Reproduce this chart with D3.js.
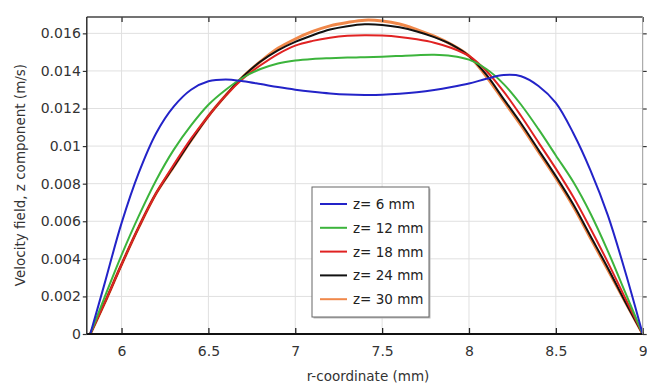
<!DOCTYPE html>
<html>
<head>
<meta charset="utf-8">
<script src="https://cdn.jsdelivr.net/npm/d3@7"></script>
<style>
  body { margin: 0; background: #fff; }
  svg { display: block; font-family: "DejaVu Sans", Verdana, sans-serif; }
</style>
</head>
<body>
<svg id="chart" width="647" height="385"></svg>
<script>
// r-coordinate samples (mm), shared by all series
var rValues = [5.82, 5.9, 6.0, 6.1, 6.2, 6.3, 6.4, 6.5, 6.6, 6.7, 6.8, 6.9, 7.0, 7.1, 7.2, 7.3, 7.4,
  7.5, 7.6, 7.7, 7.8, 7.9, 8.0, 8.1, 8.2, 8.3, 8.4, 8.5, 8.6, 8.7, 8.8, 8.9, 9.0];

// velocity z component (m/s)
var z6 = [0, 0.0026, 0.0059, 0.0086, 0.0107, 0.0121, 0.0130, 0.01345, 0.01355, 0.01345, 0.0133, 0.01314, 0.01300,
  0.01289, 0.0128, 0.01274, 0.01272, 0.01273, 0.01278, 0.01286, 0.01298, 0.01314, 0.01333, 0.01358, 0.01378,
  0.01372, 0.0132, 0.0123, 0.0107, 0.0087, 0.0063, 0.0033, 0];
var z12 = [0, 0.0019, 0.0042, 0.0063, 0.0082, 0.0098, 0.0111, 0.0122, 0.0130, 0.01365, 0.0141, 0.0144, 0.01456,
  0.01464, 0.01468, 0.01471, 0.01473, 0.01476, 0.0148, 0.01484, 0.01486, 0.0148, 0.0146, 0.0141, 0.0133,
  0.0122, 0.0109, 0.0095, 0.0081, 0.0064, 0.0044, 0.0022, 0];
var z18 = [0, 0.0016, 0.0037, 0.0057, 0.0075, 0.0090, 0.0104, 0.0116, 0.0127, 0.0136, 0.0143, 0.0149, 0.01535,
  0.0156, 0.01577, 0.01587, 0.0159, 0.01588, 0.01581, 0.01568, 0.0155, 0.01522, 0.0148, 0.0140, 0.0129,
  0.0116, 0.0102, 0.0088, 0.0073, 0.0056, 0.0038, 0.0019, 0];
var z24 = [0, 0.0016, 0.0037, 0.0057, 0.0075, 0.0089, 0.0103, 0.0116, 0.0127, 0.0137, 0.0145, 0.0151, 0.01555,
  0.0159, 0.0162, 0.01638, 0.01648, 0.01645, 0.01632, 0.0161, 0.0158, 0.0154, 0.0148, 0.0138, 0.0125,
  0.0112, 0.0098, 0.0084, 0.0069, 0.0052, 0.0035, 0.0017, 0];
var z30 = [0, 0.0016, 0.0037, 0.0057, 0.0075, 0.0089, 0.0103, 0.0116, 0.0127, 0.0137, 0.0145, 0.0152, 0.0157,
  0.0161, 0.0164, 0.01658, 0.0167, 0.01666, 0.0165, 0.0162, 0.01585, 0.0154, 0.0148, 0.0137, 0.0124,
  0.0111, 0.0097, 0.0083, 0.0068, 0.0051, 0.0034, 0.0017, 0];

var seriesNames = ["z= 6 mm", "z= 12 mm", "z= 18 mm", "z= 24 mm", "z= 30 mm"];
var seriesColors = ["#2323c8", "#3cb43c", "#e02222", "#111111", "#f0884a"];
var seriesValues = [z6, z12, z18, z24, z30];

var xTicks = [6, 6.5, 7, 7.5, 8, 8.5, 9];
var yTicks = [0, 0.002, 0.004, 0.006, 0.008, 0.01, 0.012, 0.014, 0.016];

var xLabel = "r-coordinate (mm)";
var yLabel = "Velocity field, z component (m/s)";

var svg = d3.select("#chart");

// plot box (window.top is taken, so use other names)
var plotL = 86.8, plotR = 642.7, plotT = 17, plotB = 334;

var x = d3.scaleLinear().domain([5.8, 9]).range([plotL, plotR]);
var y = d3.scaleLinear().domain([0, 0.01687]).range([plotB, plotT]);

function drawGrid() {
  var g = svg.append("g");
  g.selectAll("line.gx").data(xTicks.slice(0, -1)).enter().append("line")
    .attr("x1", d => x(d)).attr("x2", d => x(d))
    .attr("y1", plotT).attr("y2", plotB)
    .attr("stroke", "#e0e0e0").attr("stroke-width", 1);
  g.selectAll("line.gy").data(yTicks.slice(1)).enter().append("line")
    .attr("x1", plotL).attr("x2", plotR)
    .attr("y1", d => y(d)).attr("y2", d => y(d))
    .attr("stroke", "#e0e0e0").attr("stroke-width", 1);
}

function drawAxes() {
  // bottom axis, ticks pointing into the plot
  var xb = svg.append("g").attr("transform", "translate(0," + plotB + ")")
    .call(d3.axisBottom(x).tickValues(xTicks).tickSize(-6).tickPadding(12).tickFormat(d3.format("")));
  xb.select(".domain").remove();
  xb.selectAll("line").attr("stroke", "#222").attr("stroke-width", 1.3);
  xb.selectAll("text").attr("font-size", 14).attr("fill", "#333").attr("font-family", "DejaVu Sans");

  // top ticks
  var xt = svg.append("g").attr("transform", "translate(0," + plotT + ")")
    .call(d3.axisTop(x).tickValues(xTicks).tickSize(-5).tickFormat(""));
  xt.select(".domain").remove();
  xt.selectAll("line").attr("stroke", "#333").attr("stroke-width", 1.3);

  // left axis
  var yl = svg.append("g").attr("transform", "translate(" + plotL + ",0)")
    .call(d3.axisLeft(y).tickValues(yTicks).tickSize(4).tickPadding(2).tickFormat(d3.format("")));
  yl.select(".domain").remove();
  yl.selectAll("line").attr("stroke", "#333").attr("stroke-width", 1.2);
  yl.selectAll("text").attr("font-size", 14).attr("fill", "#333").attr("font-family", "DejaVu Sans");

  // right ticks
  var yr = svg.append("g").attr("transform", "translate(" + plotR + ",0)")
    .call(d3.axisRight(y).tickValues(yTicks).tickSize(4).tickFormat(""));
  yr.select(".domain").remove();
  yr.selectAll("line").attr("stroke", "#333").attr("stroke-width", 1.2);

  // frame
  svg.append("line").attr("x1", plotL).attr("x2", plotR).attr("y1", plotT).attr("y2", plotT)
    .attr("stroke", "#444").attr("stroke-width", 1.6);
  svg.append("line").attr("x1", plotL).attr("x2", plotR).attr("y1", plotB).attr("y2", plotB)
    .attr("stroke", "#111").attr("stroke-width", 1.8);
  svg.append("line").attr("x1", plotL).attr("x2", plotL).attr("y1", plotT).attr("y2", plotB)
    .attr("stroke", "#222").attr("stroke-width", 1.4);
  svg.append("line").attr("x1", plotR).attr("x2", plotR).attr("y1", plotT).attr("y2", plotB)
    .attr("stroke", "#999").attr("stroke-width", 1);

  svg.append("text").attr("x", 368).attr("y", 381)
    .attr("text-anchor", "middle").attr("font-size", 13.5).attr("fill", "#333")
    .text(xLabel);

  svg.append("text").attr("transform", "translate(25,175) rotate(-90)")
    .attr("text-anchor", "middle").attr("font-size", 13.5).attr("fill", "#333")
    .text(yLabel);
}

function drawLines() {
  var line = d3.line()
    .x((d, i) => x(rValues[i]))
    .y(d => y(d))
    .curve(d3.curveCatmullRom.alpha(0.5));
  // orange first so the black and red sit on top of it
  var order = [4, 3, 2, 1, 0];
  order.forEach(function(k) {
    svg.append("path")
      .datum(seriesValues[k])
      .attr("fill", "none")
      .attr("stroke", seriesColors[k])
      .attr("stroke-width", k == 4 ? 3 : 2)
      .attr("stroke-linejoin", "round")
      .attr("d", line);
  });
}

function drawLegend() {
  var lx = 312, ly = 187, lw = 117, lh = 130;
  svg.append("rect").attr("x", lx + 1.5).attr("y", ly + 1.5).attr("width", lw).attr("height", lh)
    .attr("fill", "#bbb");
  svg.append("rect").attr("x", lx).attr("y", ly).attr("width", lw).attr("height", lh)
    .attr("fill", "#fff").attr("stroke", "#666").attr("stroke-width", 1);
  var items = svg.selectAll("g.leg").data(seriesNames).enter().append("g")
    .attr("transform", (d, i) => "translate(" + lx + "," + (ly + 17 + i * 23.8) + ")");
  items.append("line").attr("x1", 8).attr("x2", 35).attr("y1", 0).attr("y2", 0)
    .attr("stroke", (d, i) => seriesColors[i]).attr("stroke-width", 2);
  items.append("text").attr("x", 41).attr("y", 5)
    .attr("font-size", 13.5).attr("fill", "#222").text(d => d);
}

drawGrid();
drawLines();
drawAxes();
drawLegend();
</script>
</body>
</html>
